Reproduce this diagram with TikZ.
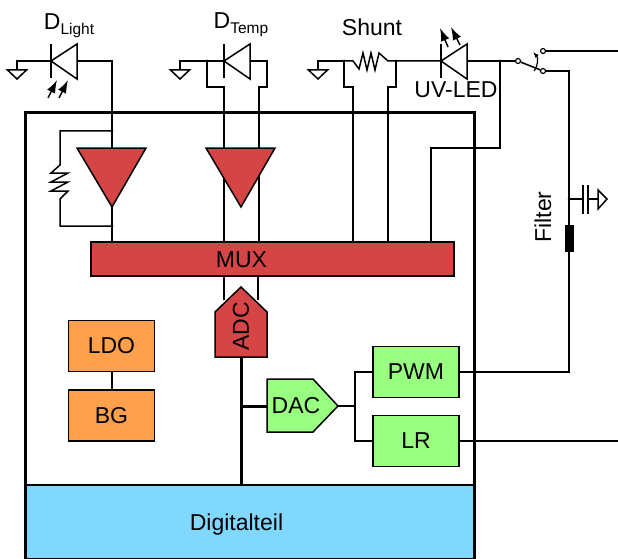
\documentclass[tikz,border=0pt]{standalone}
\usepackage{fontspec}
\setmainfont{Liberation Sans}
\usetikzlibrary{arrows.meta,calc}
\definecolor{blockred}{HTML}{D64545}
\definecolor{blockorange}{HTML}{FFA04D}
\definecolor{blockgreen}{HTML}{99FF80}
\definecolor{blockblue}{HTML}{80D8FF}
\tikzset{>={Latex[length=13pt,width=9pt]}}
\tikzset{
  wire/.style={line width=1.5pt},
  bus/.style={line width=3pt},
  block/.style={draw,line width=1.5pt,minimum width=86pt,minimum height=51pt,inner sep=0pt,font=\fontsize{23}{23}\selectfont},
  symb/.style={draw,line width=1.5pt},
  lbl/.style={inner sep=0pt,font=\fontsize{23}{23}\selectfont},
  dot/.style={circle,fill,inner sep=0pt,minimum size=3pt},
  contact/.style={circle,draw,fill=white,line width=1.2pt,inner sep=0pt,minimum size=5pt},
}
\newcommand{\lowsub}[1]{\raisebox{-0.42ex}{\fontsize{15.5}{15.5}\selectfont #1}}
\begin{document}
\begin{tikzpicture}[x=1pt,y=-1pt]
  \useasboundingbox (0,0) rectangle (618,559);
  % blocks
  \node[block,fill=blockblue,minimum width=449pt,minimum height=74pt] (digital) at (249.5,522) {};
  \node[lbl] (digitaltxt) at (236.5,525) {Digitalteil};
  \node[block,fill=blockred,minimum width=363pt,minimum height=34pt] (mux) at (272.5,259) {};
  \node[lbl] (muxtxt) at (241.5,260) {MUX};
  \node[block,fill=blockorange] (ldo) at (111.5,346) {\raisebox{-1pt}{LDO}};
  \node[block,fill=blockorange] (bg)  at (111.5,415.5) {\raisebox{-1pt}{BG}};
  \node[block,fill=blockgreen]  (pwm) at (416,372) {\raisebox{-1pt}{PWM}};
  \node[block,fill=blockgreen]  (lr)  at (416,441) {\raisebox{-1pt}{LR}};
  % points of the wires
  \coordinate (dlight) at (51,61);
  \coordinate (dtemp)  at (224,61);
  \coordinate (duv)    at (441,61);
  \coordinate (amp1)   at (112,148);
  \coordinate (amp2)   at (241,148);
  \coordinate (top1)   at (112,131);
  \coordinate (bot1)   at (112,226);
  \coordinate (shl)    at (344,61);
  \coordinate (shr)    at (396,61);
  \coordinate (uvj)    at (500,61);
  \coordinate (adcbot) at (241,357);
  \coordinate (dacin)  at (267,406);
  \coordinate (dacout) at (338,406);
  \coordinate (fork)   at (355,406);
  \coordinate (filt)   at (569,199);
  \node[contact] (sw0) at (518,61) {};
  \node[contact] (sw1) at (543,51) {};
  \node[contact] (sw2) at (543,71) {};
  % wires
  \draw[wire] (dlight) -- ++(-34,0) -- ++(0,9) coordinate (gnd1);
  \draw[wire] (77,61) -- (112,61) -- (top1) -- (amp1);
  \draw[wire] (top1) -- (60,131) -- (60,165) -- (51,173) -- (68,173) -- (51,182) -- (68,182) -- (51,191) -- (68,191) -- (60,199) -- (60,226) -- (bot1);
  \draw[wire] (112,207) -- (bot1) -- (bot1 |- mux.north);
  \draw[wire] (dtemp) -- ++(-44,0) -- ++(0,9) coordinate (gnd2);
  \draw[wire] (207,61) -- (207,87) -- (224,87) -- (224,242);
  \draw[wire] (250,61) -- (267,61) -- (267,87) -- (259,87) -- (259,242);
  \draw[wire] (shl) -- (318,61) -- (318,70) coordinate (gnd3);
  \draw[wire] (shl) -- (353,61) -- (359,69) -- (363,53) -- (367,70) -- (371,53) -- (375,70) -- (379,53) -- (388,61) -- (shr) -- (duv);
  \draw[wire] (shl) -- (344,87) -- (353,87) -- (353,242);
  \draw[wire] (shr) -- (396,87) -- (388,87) -- (388,242);
  \draw[wire] (467,61) -- (sw0);
  \draw[wire] (uvj) -- (500,148) -- (431,148) -- (431,242);
  \draw[wire] (sw0) -- (sw2);
  \draw[wire] (sw1) -- (618,51);
  \draw[wire] (sw2) -- (569,71) -- (569,372) -- (pwm.east);
  \draw[wire] (lr.east) -- (618,441);
  \draw[wire] (112,372) -- (112,390);
  \draw[wire] (224,276) -- (224,300);
  \draw[wire] (258,276) -- (258,300);
  \draw[wire] (dacout) -- (fork);
  \draw[wire] (fork) |- (pwm.west);
  \draw[wire] (fork) |- (lr.west);
  \draw[bus] (adcbot) -- (241,485);
  \draw[bus] (241,406) -- (dacin);
  \draw[line width=1.2pt,-{Latex[length=6pt,width=4.5pt]}] (534,71) to[bend right=40] (533,52);
  % filter
  \draw[wire] (filt) -- (583,199);
  \draw[wire] (588,199) -- (598,199);
  \draw[wire] (583,185) -- (583,214);
  \draw[wire] (588,185) -- (588,214);
  \draw[symb] (598,190) -- (607,199) -- (598,209) -- cycle;
  \fill (565,225) rectangle (574,252);
  \node[lbl,rotate=90] (filter) at (543,217) {Filter};
  % grounds
  \draw[symb] ($(gnd1)+(-9.5,0)$) -- ++(19,0) -- ($(gnd1)+(0,9)$) -- cycle;
  \draw[symb] ($(gnd2)+(-9.5,0)$) -- ++(19,0) -- ($(gnd2)+(0,9)$) -- cycle;
  \draw[symb] ($(gnd3)+(-9.5,0)$) -- ++(19,0) -- ($(gnd3)+(0,9)$) -- cycle;
  % diodes
  \draw[symb] (dlight) -- (77,44) -- (77,79) -- cycle;
  \draw[wire] (51,44) -- (51,78);
  \draw[symb] (dtemp) -- (250,44) -- (250,79) -- cycle;
  \draw[wire] (224,44) -- (224,78);
  \draw[symb] (duv) -- (467,44) -- (467,79) -- cycle;
  \draw[wire] (441,44) -- (441,78);
  \draw[wire,->] (48,98) -- (57,80);
  \draw[wire,->] (59,98) -- (68,80);
  \draw[wire,->] (448,47) -- (440,28);
  \draw[wire,->] (460,45) -- (451,27);
  % amplifiers and converters
  \draw[symb,fill=blockred] (77,148) -- (146,148) -- (112,207) -- cycle;
  \draw[symb,fill=blockred] (206,148) -- (275,148) -- (241,207) -- cycle;
  \draw[symb,fill=blockred] (215,357) -- (215,312) -- (241,287) -- (267,312) -- (267,357) -- cycle;
  \node[lbl,rotate=90] (adc) at (241,326.5) {ADC};
  \draw[symb,fill=blockgreen] (267,379) -- (313,379) -- (338,406) -- (313,432) -- (267,432) -- cycle;
  \node[lbl] (dac) at (296,406) {DAC};
  % box
  \draw[bus] (25,559) -- (25,113) -- (474,113) -- (474,559);
  % dots
  \node[dot] at (top1) {};
  \node[dot] at (bot1) {};
  \node[dot] at (207,61) {};
  \node[dot] at (shl) {};
  \node[dot] at (shr) {};
  \node[dot] at (uvj) {};
  \node[dot] at (filt) {};
  % labels
  \node[lbl] (labl) at (69,26) {D\lowsub{Light}};
  \node[lbl] (labt) at (241,25) {D\lowsub{Temp}};
  \node[lbl] (labs) at (372,27) {Shunt};
  \node[lbl] (labu) at (456,90) {UV-LED};
\end{tikzpicture}
\end{document}
